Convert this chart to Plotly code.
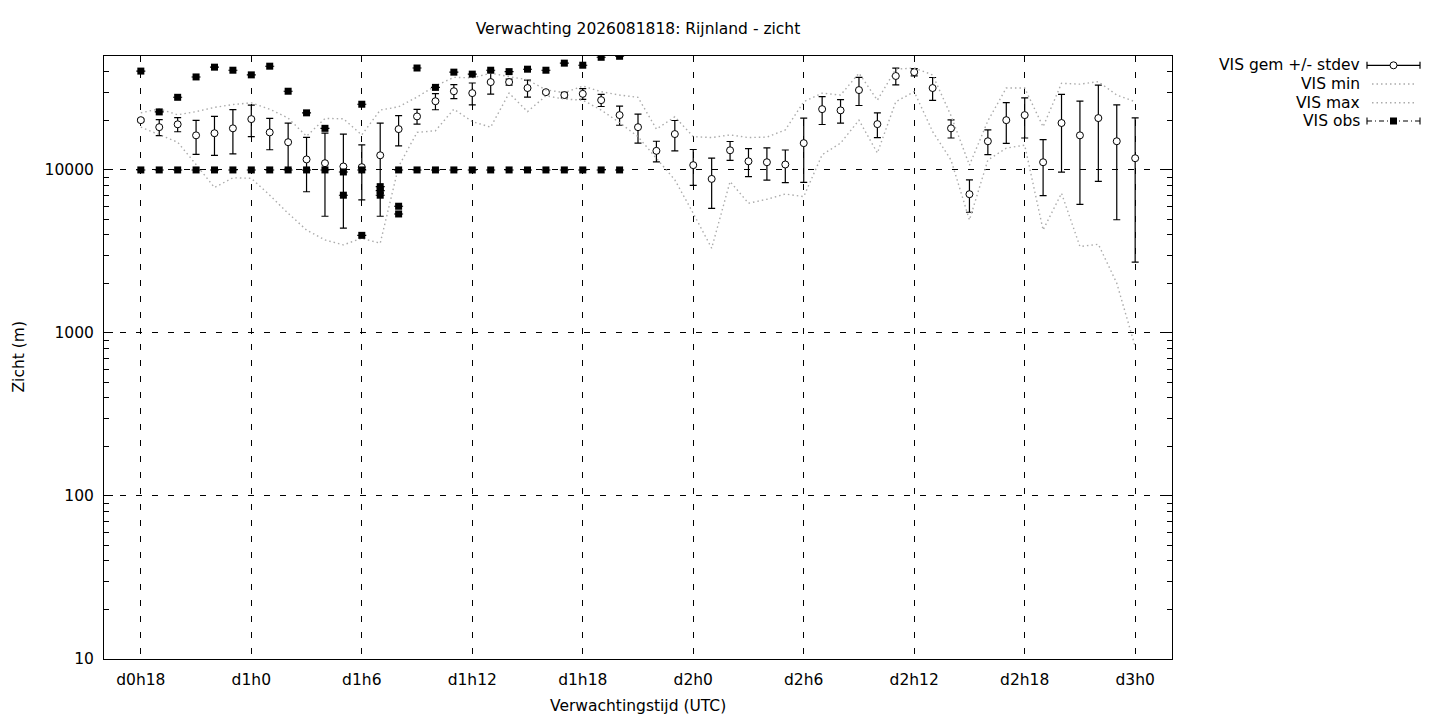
import math
import plotly.graph_objects as go

# verwachtingsuren (uren na d0h0)
hours = list(range(18, 73))

vis_gem = [20200, 18300, 19050, 16300, 16800, 18000, 20500, 17000, 14800, 11600,
           11000, 10500, 10400, 12300, 17800, 21300, 26400, 30400, 29600, 34600,
           34600, 31800, 30000, 28800, 29300, 26800, 21700, 18300, 13100, 16600,
           10700, 8810, 13200, 11300, 11150, 10800, 14600, 23600, 23200, 30900,
           19100, 37700, 39800, 31800, 18000, 7100, 15000, 20200, 21700, 11150,
           19400, 16300, 20800, 15000, 11800]

vis_sd = [400, 2050, 1900, 3850, 4500, 5450, 4500, 3700, 4600, 4250,
          5800, 6100, 3840, 7100, 3750, 2200, 3000, 3000, 4550, 5400,
          1450, 3800, 600, 1100, 2200, 2300, 2900, 3700, 1900, 3500,
          2650, 3000, 1750, 2200, 2500, 2450, 6200, 4600, 3800, 6050,
          3300, 4450, 2000, 5100, 2300, 1600, 2600, 5650, 6000, 4200,
          9700, 10150, 12300, 10050, 9080]

vis_min = [18300, 16400, 14800, 10800, 7800, 8950, 8890, 7000, 5420, 4280,
           3720, 3470, 3810, 3550, 10500, 17000, 17400, 23600, 19800, 18300,
           29600, 22800, 28500, 27200, 26800, 23300, 19500, 16000, 11800, 8690,
           5420, 3310, 8490, 6250, 6610, 7120, 6860, 12400, 14600, 20200,
           12700, 26200, 30200, 17200, 11500, 4930, 11500, 13600, 14200, 4280,
           7200, 3390, 3500, 2020, 825]

vis_max = [22400, 23700, 21800, 22800, 24200, 25200, 25800, 23600, 20800, 16100,
           20700, 20600, 16400, 23300, 24400, 28000, 32800, 37000, 36700, 39200,
           37400, 35700, 31000, 29800, 32700, 30200, 28800, 27900, 17800, 21200,
           16000, 15800, 16400, 15800, 15900, 17600, 26200, 29600, 28800, 39200,
           26800, 41500, 42200, 38300, 21500, 10700, 20000, 31800, 31800, 18400,
           34000, 33600, 34800, 28800, 26200]

obs_hours = [18, 18, 19, 19, 20, 20, 21, 21, 22, 22, 23, 23, 24, 24, 25, 25,
             26, 26, 27, 27, 28, 28, 29, 29, 30, 30, 30, 31, 31, 31, 32, 32, 32,
             33, 33, 34, 34, 35, 35, 36, 36, 37, 37, 38, 38, 39, 39, 40, 40,
             41, 41, 42, 42, 43, 43, 44, 44]
obs_vis = [40400, 10000, 22700, 10000, 27900, 10000, 37200, 10000, 42700, 10000,
           40900, 10000, 38300, 10000, 43300, 10000, 30400, 10000, 22400, 10000,
           18000, 10000, 9720, 7000, 25300, 10000, 3970, 7900, 7470, 7000,
           10000, 5990, 5370, 42200, 10000, 32100, 10000, 39800, 10000,
           38700, 10000, 40900, 10000, 40100, 10000, 41500, 10000, 40900, 10000,
           45200, 10000, 43900, 10000, 49100, 10000, 49800, 10000]

tick_hours = [18, 24, 30, 36, 42, 48, 54, 60, 66, 72]
tick_labels = ["d0h18", "d1h0", "d1h6", "d1h12", "d1h18",
               "d2h0", "d2h6", "d2h12", "d2h18", "d3h0"]
y_ticks = [10, 100, 1000, 10000]

title = "Verwachting 2026081818: Rijnland - zicht"
x_title = "Verwachtingstijd (UTC)"
y_title = "Zicht (m)"
legend_names = ["VIS gem +/- stdev", "VIS min", "VIS max", "VIS obs"]

FONT = "DejaVu Sans"
FS = 15.5
GREY = "#ababab"
DOT = "1.5px,3px"

# pagina heeft 8px body-marge: figuur iets kleiner maken
W, H = 1432, 712

minor_vals = [m * 10 ** e for e in range(1, 5) for m in range(2, 10) if m * 10 ** e <= 50000]

fig = go.Figure()

fig.add_trace(go.Scatter(
    x=hours, y=vis_gem, mode="markers", name=legend_names[0],
    marker=dict(symbol="circle", size=7, color="white", line=dict(color="black", width=1)),
    error_y=dict(type="data", array=vis_sd, color="black", thickness=1.2, width=3.5),
))
fig.add_trace(go.Scatter(
    x=hours, y=vis_min, mode="lines", name=legend_names[1],
    line=dict(color=GREY, width=1.4, dash=DOT),
))
fig.add_trace(go.Scatter(
    x=hours, y=vis_max, mode="lines", name=legend_names[2],
    line=dict(color=GREY, width=1.4, dash=DOT),
))
fig.add_trace(go.Scatter(
    x=obs_hours, y=obs_vis, mode="markers", name=legend_names[3],
    marker=dict(symbol="square", size=7, color="black"),
    error_y=dict(type="data", array=[0] * len(obs_vis), color="black", thickness=1.1, width=4.5),
))

# gnuplot-achtige legenda: tekst rechts uitgelijnd, voorbeeld rechts ervan
annotations = []
shapes = []
row_y = [-9.3, -28, -46.7, -65]
for name, dy in zip(legend_names, row_y):
    annotations.append(dict(
        text=name, x=1, y=1, xref="paper", yref="paper", xanchor="right", yanchor="middle",
        xshift=190, yshift=dy, showarrow=False, font=dict(family=FONT, size=FS, color="black"),
    ))


def pshape(kind, x0, x1, y0, y1, **kw):
    d = dict(type=kind, xref="paper", yref="paper", xsizemode="pixel", ysizemode="pixel",
             xanchor=1, yanchor=1, x0=x0, x1=x1, y0=y0, y1=y1)
    d.update(kw)
    return d


# rij 1: foutbalk met cirkel
dy = row_y[0]
shapes.append(pshape("line", 195, 248, dy, dy, line=dict(color="black", width=1.2)))
for xc in (195, 248):
    shapes.append(pshape("line", xc, xc, dy - 3.5, dy + 3.5, line=dict(color="black", width=1.2)))
shapes.append(pshape("circle", 218, 225, dy - 3.5, dy + 3.5,
                     line=dict(color="black", width=1), fillcolor="white"))
# rij 2 en 3: gestippeld
for dy in row_y[1:3]:
    shapes.append(pshape("line", 200, 245, dy, dy, line=dict(color=GREY, width=1.4, dash=DOT)))
# rij 4: obs
dy = row_y[3]
shapes.append(pshape("line", 195, 248, dy, dy, line=dict(color="black", width=1.1, dash="5px,3px,1px,3px")))
for xc in (195, 248):
    shapes.append(pshape("line", xc, xc, dy - 3.5, dy + 3.5, line=dict(color="black", width=1.1)))
shapes.append(pshape("rect", 218, 225, dy - 3.5, dy + 3.5,
                     line=dict(color="black", width=0), fillcolor="black"))

# astitels
annotations.append(dict(text=x_title, x=0.5, y=0, xref="paper", yref="paper",
                        xanchor="center", yanchor="middle", yshift=-47, showarrow=False,
                        font=dict(family=FONT, size=FS, color="black")))
annotations.append(dict(text=y_title, x=0, y=0.5, xref="paper", yref="paper",
                        xanchor="center", yanchor="middle", xshift=-86, textangle=-90,
                        showarrow=False, font=dict(family=FONT, size=FS, color="black")))

fig.update_layout(
    width=W, height=H,
    margin=dict(l=96, r=268, t=48, b=61),
    paper_bgcolor="white", plot_bgcolor="white",
    font=dict(family=FONT, size=FS, color="black"),
    showlegend=False,
    title=dict(text=title, x=0.5, xref="paper", xanchor="center",
               y=1 - 21 / H, yanchor="middle", font=dict(family=FONT, size=FS, color="black")),
    annotations=annotations,
    shapes=shapes,
)

fig.update_xaxes(
    range=[16, 74], tickvals=tick_hours, ticktext=tick_labels,
    showgrid=True, gridcolor="black", gridwidth=1, griddash="6px,10px",
    showline=True, linecolor="black", linewidth=1, mirror=True,
    ticks="", zeroline=False, ticklabelstandoff=6,
)
fig.update_yaxes(
    type="log", range=[1, math.log10(50000)],
    tickvals=y_ticks, ticktext=[str(v) for v in y_ticks],
    showgrid=True, gridcolor="black", gridwidth=1, griddash="6px,10px",
    showline=True, linecolor="black", linewidth=1, mirror="ticks",
    ticks="inside", ticklen=9, tickcolor="black", zeroline=False, ticklabelstandoff=6,
    minor=dict(tickvals=minor_vals, ticks="inside", ticklen=5, tickcolor="black", showgrid=False),
)

fig.write_html("out.html")
